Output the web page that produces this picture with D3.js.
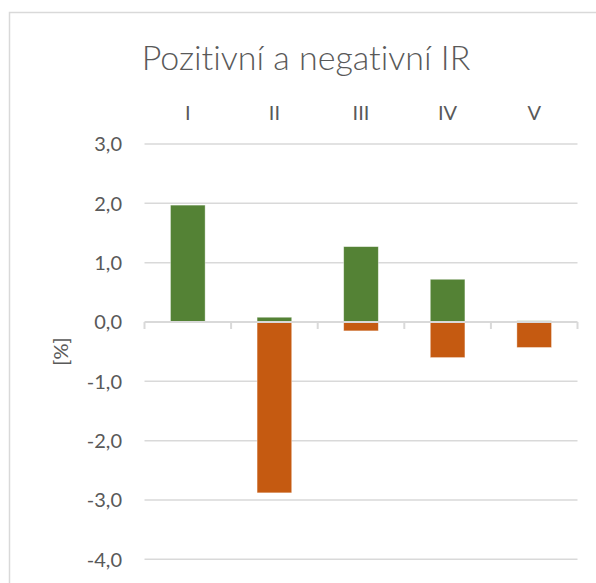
<!DOCTYPE html>
<html>
<head>
<meta charset="utf-8">
<script src="https://cdn.jsdelivr.net/npm/d3@7"></script>
<style>
  body { margin: 0; background: #fff; }
  text { font-family: Lato, "Open Sans", sans-serif; fill: #595959; font-variant-ligatures: none; }
</style>
</head>
<body>
<div id="chart"></div>
<script>
var categories = ["I", "II", "III", "IV", "V"];
var positive = [1.97, 0.08, 1.27, 0.72, 0.02];
var negative = [0, -2.88, -0.15, -0.6, -0.43];
var yTicks = [3, 2, 1, 0, -1, -2, -3, -4];

var width = 596, height = 583;
var plotLeft = 144.5, plotRight = 577.5, plotTop = 144, plotBottom = 559.3;

var svg = d3.select("#chart").append("svg")
            .attr("width", width)
            .attr("height", height);

// chart frame (cut off on the right and bottom)
svg.append("path")
   .attr("d", "M9.5," + height + "V12.5H" + width)
   .attr("fill", "none")
   .attr("stroke", "#d9d9d9")
   .attr("stroke-width", 1.5);

var x = d3.scaleBand().domain(categories).range([plotLeft, plotRight]);
var y = d3.scaleLinear().domain([-4, 3]).range([plotBottom, plotTop]);

// title
svg.append("text")
   .attr("x", 306)
   .attr("y", 70)
   .attr("text-anchor", "middle")
   .style("font-size", "34px")
   .style("font-weight", 300)
   .text("Pozitivní a negativní IR");

// gridlines
svg.append("g")
   .selectAll("line")
   .data(yTicks.filter(function(d) { return d !== 0; }))
   .enter().append("line")
   .attr("x1", plotLeft).attr("x2", plotRight)
   .attr("y1", function(d) { return y(d); })
   .attr("y2", function(d) { return y(d); })
   .attr("stroke", "#d9d9d9")
   .attr("stroke-width", 1.5);

// y tick labels
svg.append("g")
   .selectAll("text")
   .data(yTicks)
   .enter().append("text")
   .attr("x", 122)
   .attr("y", function(d) { return y(d); })
   .attr("dy", "0.36em")
   .attr("text-anchor", "end")
   .style("font-size", "20px")
   .text(function(d) { return d3.format(".1f")(d).replace(".", ",").replace("−", "-"); });

// category labels on top
svg.append("g")
   .selectAll("text")
   .data(categories)
   .enter().append("text")
   .attr("x", function(d) { return x(d) + x.bandwidth() / 2; })
   .attr("y", 119.5)
   .attr("text-anchor", "middle")
   .style("font-size", "20px")
   .text(function(d) { return d; });

// y axis title
svg.append("text")
   .attr("transform", "translate(68,351.5) rotate(-90)")
   .attr("text-anchor", "middle")
   .style("font-size", "20px")
   .text("[%]");

var barW = x.bandwidth() * 0.4;

function drawBars(values, color) {
  svg.append("g")
     .selectAll("rect")
     .data(values)
     .enter().append("rect")
     .attr("x", function(d, i) { return x(categories[i]) + (x.bandwidth() - barW) / 2; })
     .attr("y", function(d) { return y(Math.max(0, d)); })
     .attr("width", barW)
     .attr("height", function(d) { return Math.abs(y(d) - y(0)); })
     .attr("fill", color)
     .attr("stroke", "#fff")
     .attr("stroke-opacity", 0.5)
     .attr("stroke-width", 0.75);
}

drawBars(negative, "#c55a11");
drawBars(positive, "#548235");

// zero axis with tick marks
var axis = svg.append("g").attr("transform", "translate(0," + y(0) + ")");
axis.append("line")
    .attr("x1", plotLeft).attr("x2", plotRight)
    .attr("stroke", "#d9d9d9")
    .attr("stroke-width", 2);
axis.selectAll(".tick")
    .data(x.domain().map(function(d) { return x(d); }).concat([plotRight]))
    .enter().append("line")
    .attr("x1", function(d) { return d; })
    .attr("x2", function(d) { return d; })
    .attr("y1", 0).attr("y2", 7)
    .attr("stroke", "#d9d9d9")
    .attr("stroke-width", 2);
</script>
</body>
</html>
